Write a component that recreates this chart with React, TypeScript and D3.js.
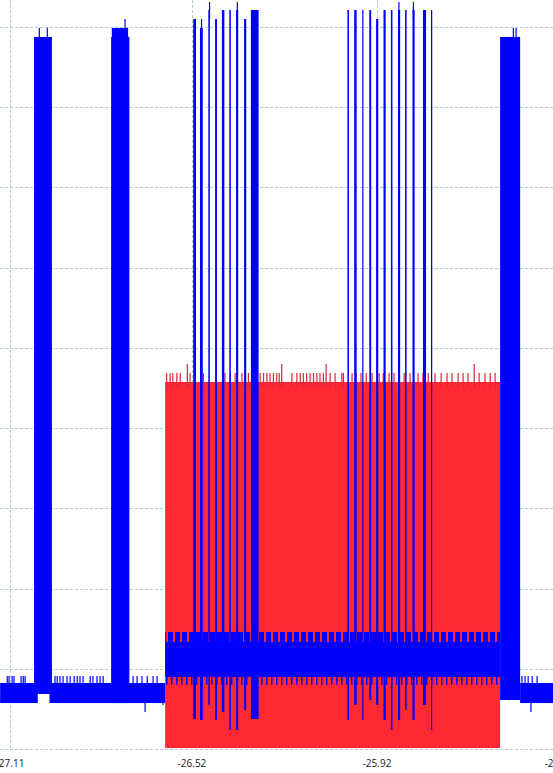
import React, { useEffect, useRef } from 'react';
import * as d3 from 'd3';

type Span = [number, number, number, number]; // t0, t1, lo, hi
type Spike = [number, number, number]; // t, lo, hi

// time axis (s)
const xTickValues = [-27.11, -26.52, -25.92, -25.33];
const xTickLabels = ['-27.11', '-26.52', '-25.92', '-25.33'];
const yGridValues = [0, 1, 2, 3, 4, 5, 6, 7, 8, 9];

// channel A (red)
const redBlock: Span[] = [[-26.607, -25.521, 0.012, 4.575]];
const redTicks = [
  -26.602, -26.591, -26.582, -26.569, -26.558, -26.526, -26.483, -26.413, -26.396,
  -26.38, -26.358, -26.337, -26.299, -26.288, -26.277, -26.267, -26.256, -26.245,
  -26.237, -26.196, -26.18, -26.169, -26.159, -26.148, -26.137, -26.126, -26.115,
  -26.105, -26.094, -26.072, -26.056, -26.034, -26.029, -26.001, -25.988, -25.972,
  -25.955, -25.936, -25.913, -25.9, -25.881, -25.865, -25.848, -25.832, -25.813,
  -25.787, -25.771, -25.754, -25.732, -25.712, -25.693, -25.677, -25.657, -25.641,
  -25.625, -25.589, -25.57, -25.553, -25.537,
];
const redTallTicks = [-26.535, -26.229, -26.085, -25.605];

// channel B (blue)
const blueBase: Span[] = [
  [-27.142, -27.02, 0.573, 0.823],
  [-26.982, -26.607, 0.573, 0.823],
  [-25.456, -25.349, 0.573, 0.823],
];
const bluePulses: Span[] = [
  [-27.032, -26.974, 0.686, 8.876],
  [-26.782, -26.723, 0.573, 8.876],
  [-26.78, -26.727, 0.573, 8.988],
  [-25.521, -25.456, 0.611, 8.876],
];
const blueBand: Span[] = [[-26.607, -25.521, 0.898, 1.334]];
const blueBandTop: Span[] = [[-26.607, -25.521, 1.334, 1.459]];
const blueBandBottom: Span[] = [[-26.607, -25.521, 0.8, 0.898]];
const blueBursts: Span[] = [
  [-26.516, -26.507, 0.374, 9.1],
  [-26.494, -26.485, 0.362, 8.988],
  [-26.467, -26.462, 0.549, 9.212],
  [-26.445, -26.439, 0.362, 9.1],
  [-26.423, -26.415, 0.461, 9.212],
  [-26.399, -26.394, 0.237, 9.212],
  [-26.377, -26.37, 0.237, 9.212],
  [-26.351, -26.344, 0.486, 9.1],
  [-26.329, -26.304, 0.374, 9.212],
  [-26.016, -26.011, 0.362, 9.212],
  [-25.994, -25.986, 0.549, 9.212],
  [-25.968, -25.964, 0.362, 9.212],
  [-25.945, -25.939, 0.611, 9.212],
  [-25.923, -25.916, 0.549, 9.1],
  [-25.899, -25.892, 0.362, 9.212],
  [-25.875, -25.87, 0.237, 9.212],
  [-25.852, -25.845, 0.362, 9.212],
  [-25.829, -25.824, 0.486, 9.212],
  [-25.805, -25.798, 0.362, 9.212],
  [-25.771, -25.761, 0.549, 9.212],
  [-25.745, -25.741, 0.237, 9.212],
];
const blueSpikes: Spike[] = [
  [-27.015, 8.8, 8.988],
  [-26.989, 8.8, 8.988],
  [-26.737, 8.9, 9.1],
  [-26.489, 8.9, 9.1],
  [-26.463, 9.1, 9.312],
  [-26.373, 9.1, 9.312],
  [-25.849, 9.1, 9.312],
  [-25.802, 9.1, 9.312],
  [-25.478, 8.8, 8.988],
  [-25.469, 8.8, 8.988],
];
const blueUpTicks = [
  -27.119, -27.113, -27.103, -27.097, -27.074, -27.067, -27.061, -26.964, -26.957,
  -26.948, -26.938, -26.925, -26.915, -26.902, -26.892, -26.883, -26.873, -26.85,
  -26.841, -26.828, -26.818, -26.808, -26.711, -26.698, -26.682, -26.665, -26.646,
  -26.633, -25.45, -25.44, -25.43, -25.417, -25.401,
];
const blueDownTicks: Spike[] = [
  [-26.672, 0.461, 0.6],
  [-26.614, 0.549, 0.6],
  [-25.421, 0.461, 0.6],
];

const W = 553;
const H = 773;
const RED = '#ff2833';
const BLUE = '#0000ff';

const App: React.FC = () => {
  const svgRef = useRef<SVGSVGElement>(null);

  useEffect(() => {
    if (!svgRef.current) return;
    const svg = d3.select(svgRef.current);
    svg.select('g.plot').remove();

    const x = d3.scaleLinear().domain([-27.11, -25.33]).range([10, 559]);
    const y = d3.scaleLinear().domain([0, 9]).range([749, 27]);

    const g = svg.append('g').attr('class', 'plot');

    // grid
    g.selectAll('.hgrid')
      .data(yGridValues)
      .enter()
      .append('line')
      .attr('x1', 0)
      .attr('x2', W)
      .attr('y1', d => Math.round(y(d)) + 0.5)
      .attr('y2', d => Math.round(y(d)) + 0.5)
      .attr('stroke', '#b3c9d8')
      .attr('stroke-dasharray', '3,2');
    g.selectAll('.vgrid')
      .data(xTickValues)
      .enter()
      .append('line')
      .attr('x1', d => Math.round(x(d)) + 0.5)
      .attr('x2', d => Math.round(x(d)) + 0.5)
      .attr('y1', 0)
      .attr('y2', y(0))
      .attr('stroke', '#b3c9d8')
      .attr('stroke-dasharray', '3,2');

    const spans = (data: Span[], fill: string) =>
      g.append('g')
        .selectAll('rect')
        .data(data)
        .enter()
        .append('rect')
        .attr('x', d => x(d[0]))
        .attr('width', d => Math.max(1, x(d[1]) - x(d[0])))
        .attr('y', d => y(d[3]))
        .attr('height', d => y(d[2]) - y(d[3]))
        .attr('fill', fill);

    const spikes = (data: Spike[], fill: string) =>
      g.append('g')
        .selectAll('rect')
        .data(data)
        .enter()
        .append('rect')
        .attr('x', d => x(d[0]) - 0.6)
        .attr('width', 1.2)
        .attr('y', d => y(d[2]))
        .attr('height', d => y(d[1]) - y(d[2]))
        .attr('fill', fill);

    // red channel
    spans(redBlock, RED);
    spikes(redTicks.map(t => [t, 4.5, 4.687] as Spike), '#e0283a');
    spikes(redTallTicks.map(t => [t, 4.5, 4.799] as Spike), '#d0283e');

    // blue channel
    spans(blueBase, BLUE);
    spikes(blueUpTicks.map(t => [t, 0.8, 0.91] as Spike), BLUE);
    spikes(blueDownTicks, BLUE);
    spans(blueBandTop, 'url(#fringeTop)');
    spans(blueBandBottom, 'url(#fringeBottom)');
    spans(blueBand, BLUE);
    spans(bluePulses, BLUE);
    spans(blueBursts, BLUE);
    spikes(blueSpikes, BLUE);

    // x labels
    g.selectAll('.xlab')
      .data(xTickValues)
      .enter()
      .append('text')
      .attr('x', d => x(d))
      .attr('y', 767)
      .attr('text-anchor', 'middle')
      .style('font-family', '"Open Sans", sans-serif')
      .style('font-size', '10px')
      .attr('fill', '#222')
      .text((d, i) => xTickLabels[i]);
  }, []);

  return (
    <div style={{ position: 'absolute', left: 0, top: 0 }}>
      <svg ref={svgRef} width={W} height={H} style={{ display: 'block', background: '#fff' }}>
        <defs>
          <pattern id="fringeTop" width={7} height={20} patternUnits="userSpaceOnUse">
            <rect x={0} y={0} width={5} height={20} fill={BLUE} />
          </pattern>
          <pattern id="fringeBottom" width={5} height={20} patternUnits="userSpaceOnUse">
            <rect x={1} y={0} width={1.5} height={20} fill={BLUE} />
          </pattern>
        </defs>
      </svg>
    </div>
  );
};

export default App;
